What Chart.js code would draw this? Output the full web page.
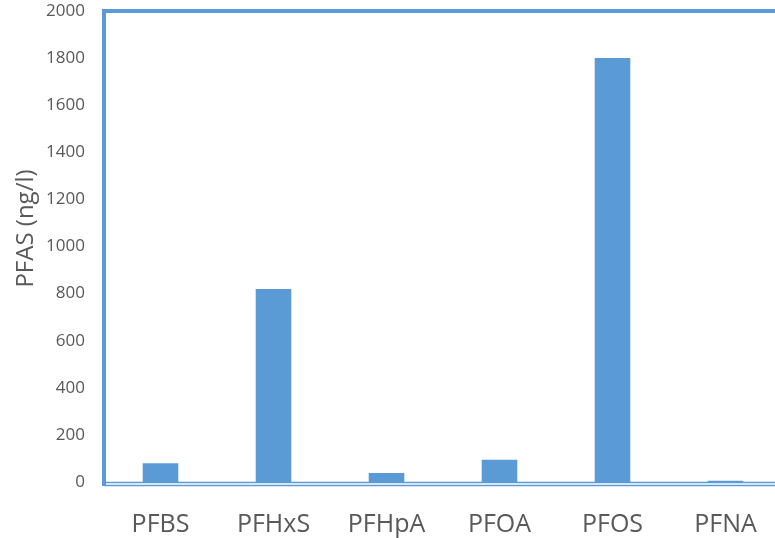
<!DOCTYPE html>
<html>
<head>
<meta charset="utf-8">
<script src="https://cdn.jsdelivr.net/npm/chart.js@4/dist/chart.umd.min.js"></script>
<style>
  html, body { margin: 0; padding: 0; overflow: hidden; background: #ffffff; }
  #wrap { width: 790px; height: 538px; }
</style>
</head>
<body>
<div id="wrap"><canvas id="chart" width="790" height="538"></canvas></div>
<script>
// PFAS concentrations per compound (ng/l)
const compounds = ['PFBS', 'PFHxS', 'PFHpA', 'PFOA', 'PFOS', 'PFNA'];
const concentrations = [80, 820, 38, 95, 1800, 5];
const yTicks = [0, 200, 400, 600, 800, 1000, 1200, 1400, 1600, 1800, 2000];
const yTitle = 'PFAS (ng/l)';

const BLUE = '#5b9bd5';
const TEXT = '#595959';
const FONT = "'Open Sans', 'Liberation Sans', sans-serif";

// Frame round the plot area: thick left and top edges, a double rule along the base
const framePlugin = {
  id: 'frame',
  afterDatasetsDraw(chart) {
    const { ctx, chartArea: a } = chart;
    ctx.save();
    ctx.strokeStyle = BLUE;
    ctx.lineWidth = 4;
    ctx.beginPath();
    ctx.moveTo(a.left, a.bottom + 4);
    ctx.lineTo(a.left, a.top);
    ctx.lineTo(a.right, a.top);
    ctx.lineTo(a.right, a.bottom + 4);
    ctx.stroke();
    ctx.lineWidth = 1.5;
    ctx.beginPath();
    ctx.moveTo(a.left, a.bottom + 0.5);
    ctx.lineTo(a.right, a.bottom + 0.5);
    ctx.moveTo(a.left, a.bottom + 3.5);
    ctx.lineTo(a.right, a.bottom + 3.5);
    ctx.stroke();
    ctx.restore();
  }
};

// Rotated value-axis title, set a little above the plot's middle
const axisTitlePlugin = {
  id: 'axisTitle',
  afterDraw(chart) {
    const { ctx, chartArea: a } = chart;
    ctx.save();
    ctx.translate(26, (a.top + a.bottom) / 2 - 18);
    ctx.rotate(-Math.PI / 2);
    ctx.font = "24px " + FONT;
    ctx.fillStyle = TEXT;
    ctx.textAlign = 'center';
    ctx.textBaseline = 'middle';
    ctx.fillText(yTitle, 0, 0);
    ctx.restore();
  }
};

new Chart(document.getElementById('chart'), {
  type: 'bar',
  data: {
    labels: compounds,
    datasets: [{
      data: concentrations,
      backgroundColor: BLUE,
      borderWidth: 0,
      barPercentage: 0.315,
      categoryPercentage: 1
    }]
  },
  options: {
    responsive: false,
    animation: false,
    layout: { padding: { top: 11, right: 8, left: 0, bottom: 0 } },
    plugins: { legend: { display: false }, tooltip: { enabled: false } },
    scales: {
      x: {
        grid: { display: false, drawTicks: false },
        border: { display: false },
        ticks: { color: TEXT, font: { family: FONT, size: 25 }, padding: 28, maxRotation: 0 },
        afterFit(s) { s.height = 56; s.paddingLeft = 0; s.paddingRight = 0; }
      },
      y: {
        min: 0,
        max: 2000,
        grid: { display: false, drawTicks: false },
        border: { display: false },
        afterBuildTicks(s) { s.ticks = yTicks.map(v => ({ value: v })); },
        ticks: {
          color: TEXT,
          font: { family: FONT, size: 17 },
          padding: 19,
          callback: v => String(v)
        },
        afterFit(s) { s.width = 104; s.paddingTop = 0; s.paddingBottom = 0; }
      }
    }
  },
  plugins: [framePlugin, axisTitlePlugin]
});
</script>
</body>
</html>
